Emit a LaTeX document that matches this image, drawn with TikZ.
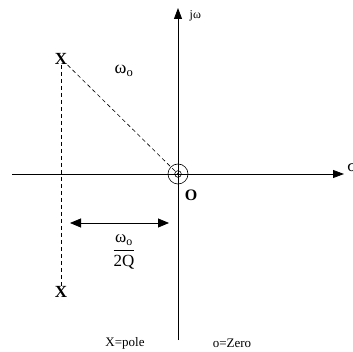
\documentclass[tikz,border=0pt]{standalone}
\usepackage{amsmath}
\usepackage{fontspec}
\setmainfont{Liberation Serif}
\usetikzlibrary{arrows.meta}

\begin{document}
\begin{tikzpicture}[x=1pt, y=-1pt, line width=0.8pt,
    axis/.style={-{Triangle[length=11pt, width=8pt]}},
    guide/.style={dashed, dash pattern=on 4pt off 3pt, line width=0.6pt},
    polemark/.style={font=\bfseries\fontsize{17}{17}\selectfont, inner sep=0pt}]
  \useasboundingbox (0,0) rectangle (353,352);
  % s-plane axes, origin at the zero
  \coordinate (O) at (178,174);
  \coordinate (xl) at (12,174);
  \coordinate (xr) at (344,174);
  \coordinate (yb) at (178,340);
  \coordinate (yt) at (178,8);
  \draw[axis] (xl) -- (xr);
  \draw[axis] (yb) -- (yt);
  \node[font=\fontsize{12}{12}\selectfont, anchor=west] (jw) at (186,16) {jω};
  \node[font=\fontsize{17}{17}\selectfont, anchor=west, inner sep=0pt] (sig) at (347,167) {σ};
  % zero at the origin
  \draw[line width=0.6pt] (O) circle (10);
  \draw[line width=0.6pt] (O) circle (3.3);
  \node[font=\bfseries\fontsize{16}{16}\selectfont] (zlbl) at (191,195) {O};
  % complex pole pair
  \node[polemark] (xtop) at (61,59) {X};
  \node[polemark] (xbot) at (61,292) {X};
  \draw[guide] (xtop.south) -- (xbot.north);
  \draw[guide] (xtop.south east) -- (O);
  \node[font=\fontsize{18}{18}\selectfont] (w0) at (124,71) {ω\textsubscript{o}};
  % distance from the jw axis
  \coordinate (dl) at (70,223);
  \coordinate (dr) at (169,223);
  \draw[{Triangle[length=11pt, width=9pt]}-{Triangle[length=11pt, width=9pt]}] (dl) -- (dr);
  \node[font=\fontsize{17}{17}\selectfont] (frac) at (124,252) {$\dfrac{\text{ω\textsubscript{o}}}{\text{2Q}}$};
  % legend
  \node[font=\fontsize{13}{13}\selectfont] (lp) at (125,343) {X=pole};
  \node[font=\fontsize{13}{13}\selectfont] (lz) at (232,343) {o=Zero};
\end{tikzpicture}
\end{document}
